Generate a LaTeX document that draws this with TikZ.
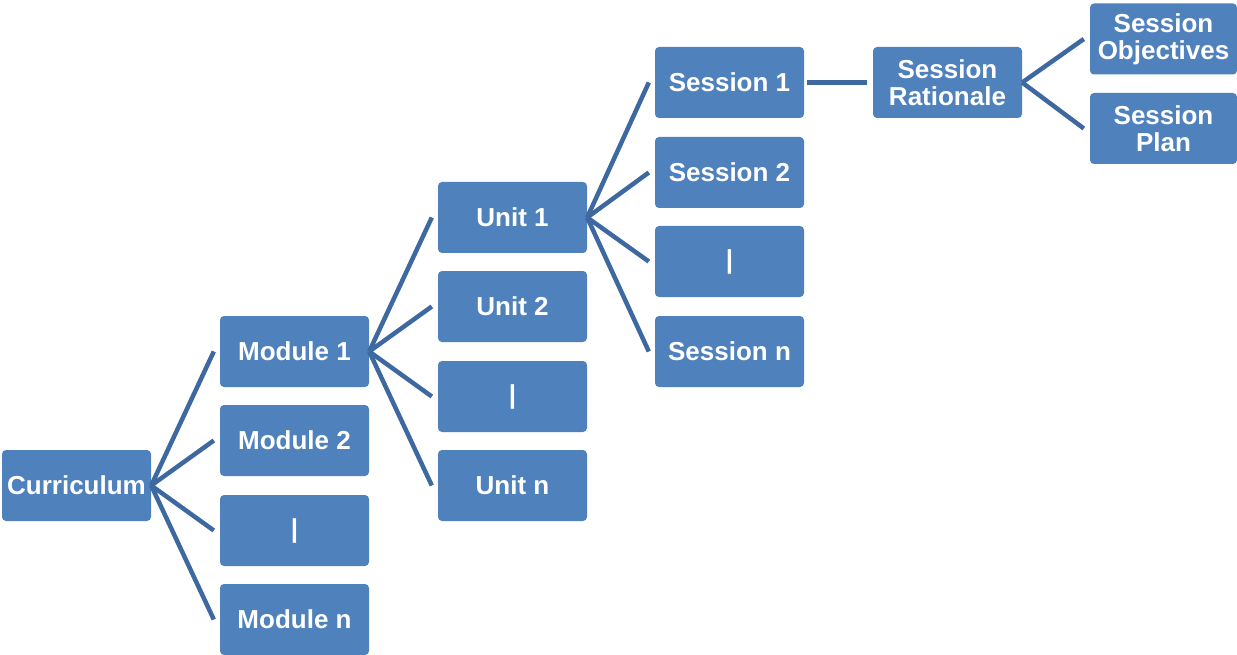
\documentclass[tikz,border=0pt]{standalone}
\usepackage{fontspec}
\setmainfont{Liberation Sans}
\definecolor{boxblue}{HTML}{4F81BD}
\definecolor{lineblue}{RGB}{62,104,160}
\begin{document}
\begin{tikzpicture}[x=1pt,y=-1pt,
  box/.style={fill=boxblue, rounded corners=4pt, minimum width=149pt, minimum height=71pt,
    inner sep=0pt, text=white, font=\fontsize{26}{27}\selectfont\bfseries, align=center},
  conn/.style={draw=lineblue, line width=4.5pt}]
\useasboundingbox (0,0) rectangle (1237,655);
\node[box] (cur) at (76.5,485.5) {Curriculum};
\node[box] (m1) at (294.5,351.5) {Module 1};
\node[box] (m2) at (294.5,440.5) {Module 2};
\node[box] (m3) at (294.5,530.5) {|};
\node[box] (mn) at (294.5,619.5) {Module n};
\node[box] (u1) at (512.5,217.5) {Unit 1};
\node[box] (u2) at (512.5,306.5) {Unit 2};
\node[box] (u3) at (512.5,396.5) {|};
\node[box] (un) at (512.5,485.5) {Unit n};
\node[box] (s1) at (729.5,82.5) {Session 1};
\node[box] (s2) at (729.5,172.5) {Session 2};
\node[box] (s3) at (729.5,261.5) {|};
\node[box] (sn) at (729.5,351.5) {Session n};
\node[box] (rat) at (947.5,82.5) {Session\\Rationale};
\node[box, minimum width=147pt] (obj) at (1163.5,39) {Session\\Objectives};
\node[box, minimum width=147pt] (plan) at (1163.5,128.5) {Session\\Plan};
\foreach \c in {m1,m2,m3,mn} \draw[conn] (cur.east) -- ([xshift=-6pt]\c.west);
\foreach \c in {u1,u2,u3,un} \draw[conn] (m1.east) -- ([xshift=-6pt]\c.west);
\foreach \c in {s1,s2,s3,sn} \draw[conn] (u1.east) -- ([xshift=-6pt]\c.west);
\draw[conn] ([xshift=3pt]s1.east) -- ([xshift=-6pt]rat.west);
\foreach \c in {obj,plan} \draw[conn] (rat.east) -- ([xshift=-6pt]\c.west);
\end{tikzpicture}
\end{document}
